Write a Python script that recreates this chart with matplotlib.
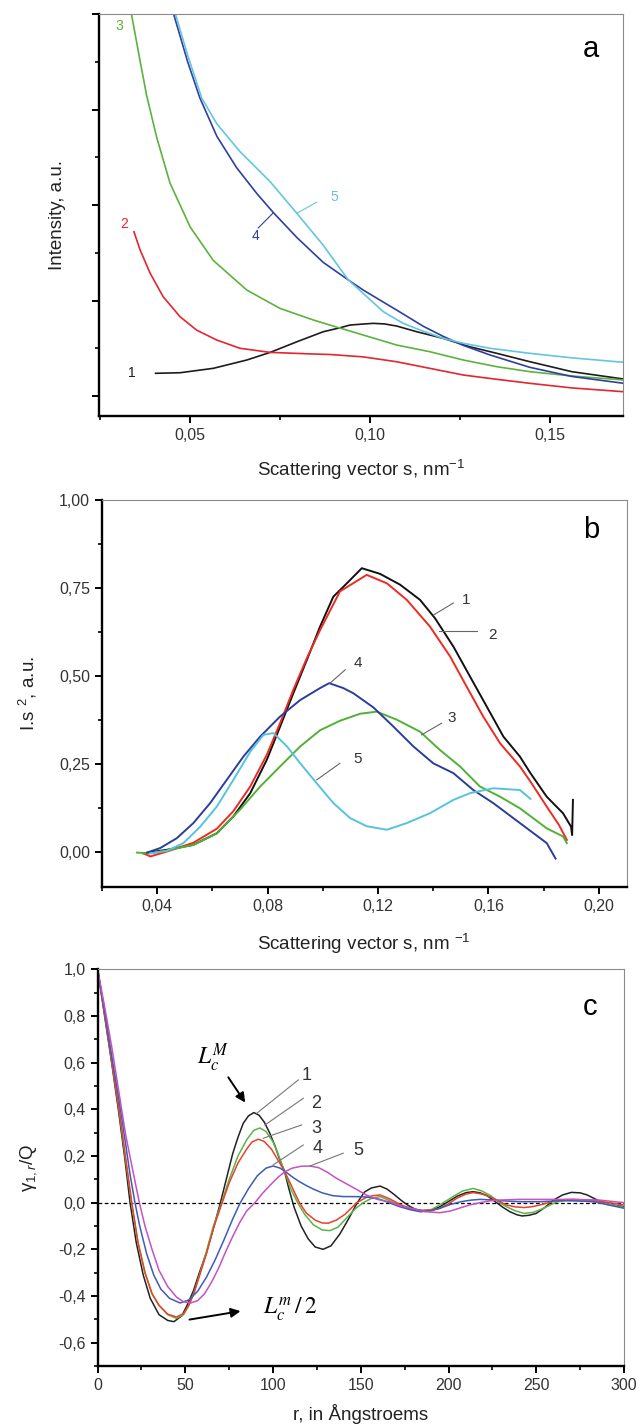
import numpy as np
import matplotlib
matplotlib.use("Agg")
from matplotlib import pyplot as plt
from matplotlib.ticker import FuncFormatter, MultipleLocator

plt.rcParams['font.family'] = ['Liberation Sans', 'DejaVu Sans']
plt.rcParams['mathtext.fontset'] = 'custom'
plt.rcParams['mathtext.rm'] = 'Liberation Sans'
plt.rcParams['mathtext.it'] = 'Liberation Sans:italic'

# ---- panel a: scattering curves ----
a_s1 = [0.0405, 0.0473, 0.0565, 0.0658, 0.0723, 0.0797, 0.0870, 0.0917, 0.0944, 0.0981, 0.1009, 0.1040, 0.1074, 0.1130, 0.1203, 0.1277, 0.1352, 0.1444, 0.1560, 0.1704]
a_i1 = [0.238, 0.244, 0.290, 0.377, 0.457, 0.568, 0.673, 0.715, 0.743, 0.754, 0.761, 0.755, 0.733, 0.673, 0.604, 0.516, 0.447, 0.359, 0.255, 0.178]
a_s2 = [0.0345, 0.0362, 0.0390, 0.0426, 0.0473, 0.0519, 0.0575, 0.0639, 0.0723, 0.0843, 0.0889, 0.0981, 0.1074, 0.1166, 0.1259, 0.1352, 0.1444, 0.1560, 0.1704]
a_i2 = [1.72, 1.53, 1.285, 1.04, 0.83, 0.69, 0.586, 0.50, 0.457, 0.44, 0.435, 0.41, 0.359, 0.29, 0.22, 0.175, 0.133, 0.085, 0.045]
a_s3 = [0.0338, 0.0358, 0.0380, 0.0408, 0.0445, 0.0501, 0.0565, 0.0658, 0.0750, 0.0843, 0.0889, 0.0981, 0.1074, 0.1166, 0.1259, 0.1352, 0.1444, 0.1560, 0.1704]
a_i3 = [4.0, 3.59, 3.15, 2.71, 2.23, 1.77, 1.42, 1.11, 0.918, 0.796, 0.743, 0.639, 0.534, 0.464, 0.377, 0.307, 0.255, 0.21, 0.168]
a_s4 = [0.0455, 0.0494, 0.0528, 0.0575, 0.0630, 0.0686, 0.0732, 0.0797, 0.0870, 0.0940, 0.0981, 0.1074, 0.1148, 0.1203, 0.1259, 0.1333, 0.1444, 0.1560, 0.1704]
a_i4 = [4.0, 3.50, 3.12, 2.72, 2.39, 2.12, 1.92, 1.66, 1.40, 1.215, 1.11, 0.90, 0.73, 0.625, 0.53, 0.43, 0.30, 0.205, 0.133]
a_s5 = [0.0460, 0.0494, 0.0533, 0.0575, 0.0639, 0.0723, 0.0797, 0.0870, 0.0889, 0.0940, 0.0981, 0.1037, 0.1092, 0.1139, 0.1203, 0.1259, 0.1333, 0.1444, 0.1560, 0.1704]
a_i5 = [4.0, 3.57, 3.12, 2.85, 2.56, 2.244, 1.913, 1.58, 1.48, 1.215, 1.075, 0.883, 0.761, 0.691, 0.604, 0.552, 0.50, 0.447, 0.40, 0.353]

# ---- panel b: Kratky plots ----
b_s1 = [0.0350, 0.0435, 0.0531, 0.0616, 0.0676, 0.0737, 0.0797, 0.0845, 0.0893, 0.0942, 0.0990, 0.1038, 0.1087, 0.1141, 0.1207, 0.1280, 0.1352, 0.1406, 0.1473, 0.1533, 0.1594, 0.1654, 0.1714, 0.1752, 0.1811, 0.1870, 0.1899, 0.1903, 0.1906]
b_i1 = [-0.005, 0.005, 0.019, 0.052, 0.100, 0.166, 0.261, 0.355, 0.450, 0.545, 0.640, 0.725, 0.763, 0.806, 0.790, 0.759, 0.716, 0.664, 0.583, 0.498, 0.412, 0.327, 0.270, 0.223, 0.156, 0.109, 0.071, 0.047, 0.147]
b_s2 = [0.0350, 0.0375, 0.0435, 0.0531, 0.0616, 0.0676, 0.0737, 0.0797, 0.0845, 0.0893, 0.0942, 0.0990, 0.1062, 0.1159, 0.1232, 0.1304, 0.1388, 0.1461, 0.1521, 0.1581, 0.1642, 0.1714, 0.1752, 0.1811, 0.1855, 0.1884]
b_i2 = [-0.005, -0.014, 0.0, 0.025, 0.065, 0.115, 0.185, 0.275, 0.365, 0.46, 0.55, 0.63, 0.74, 0.787, 0.763, 0.716, 0.64, 0.555, 0.469, 0.384, 0.308, 0.242, 0.199, 0.128, 0.076, 0.033]
b_s3 = [0.0327, 0.0375, 0.0435, 0.0531, 0.0616, 0.0700, 0.0773, 0.0845, 0.0918, 0.0990, 0.1062, 0.1135, 0.1195, 0.1268, 0.1352, 0.1424, 0.1497, 0.1569, 0.1642, 0.1714, 0.1811, 0.1870, 0.1884]
b_i3 = [-0.003, -0.005, 0.003, 0.019, 0.052, 0.119, 0.185, 0.242, 0.299, 0.345, 0.372, 0.392, 0.398, 0.375, 0.341, 0.289, 0.242, 0.185, 0.156, 0.123, 0.066, 0.043, 0.024]
b_s4 = [0.0363, 0.0411, 0.0471, 0.0531, 0.0592, 0.0652, 0.0712, 0.0773, 0.0845, 0.0918, 0.0990, 0.1023, 0.1074, 0.1111, 0.1183, 0.1255, 0.1328, 0.1400, 0.1473, 0.1545, 0.1617, 0.1714, 0.1811, 0.1843]
b_i4 = [-0.003, 0.010, 0.038, 0.081, 0.138, 0.204, 0.270, 0.327, 0.384, 0.431, 0.465, 0.479, 0.465, 0.45, 0.41, 0.356, 0.299, 0.251, 0.223, 0.175, 0.138, 0.081, 0.024, -0.02]
b_s5 = [0.0375, 0.0435, 0.0495, 0.0556, 0.0616, 0.0676, 0.0737, 0.0785, 0.0821, 0.0870, 0.0918, 0.0978, 0.1038, 0.1099, 0.1159, 0.1232, 0.1304, 0.1388, 0.1473, 0.1533, 0.1617, 0.1714, 0.1752]
b_i5 = [-0.005, 0.002, 0.024, 0.071, 0.128, 0.204, 0.284, 0.332, 0.337, 0.299, 0.251, 0.194, 0.138, 0.095, 0.072, 0.062, 0.081, 0.109, 0.147, 0.166, 0.18, 0.175, 0.15]

# ---- panel c: correlation functions ----
c_r1 = [0, 4, 8, 12, 15.5, 18.5, 22, 26, 30, 35, 40, 43.5, 48, 51, 54.5, 58, 62, 66, 70, 74, 77, 80, 83, 86, 89, 92, 95, 98, 101, 104, 106.5, 109, 112, 116, 120, 124, 128.5, 133, 138, 143, 148, 152, 156, 161, 165, 169, 173, 177, 181, 186, 191, 195, 200, 205, 210, 214, 218, 222, 227, 231, 235, 239, 242, 246, 250, 255, 260, 265, 270, 275, 279, 283, 287, 292, 300]
c_g1 = [1.0, 0.80, 0.60, 0.39, 0.19, 0.0, -0.17, -0.31, -0.41, -0.48, -0.505, -0.51, -0.485, -0.44, -0.38, -0.30, -0.215, -0.11, 0.0, 0.12, 0.21, 0.28, 0.34, 0.372, 0.386, 0.375, 0.345, 0.30, 0.245, 0.18, 0.135, 0.06, -0.02, -0.10, -0.155, -0.19, -0.20, -0.185, -0.135, -0.07, 0.0, 0.045, 0.063, 0.071, 0.058, 0.035, 0.01, -0.012, -0.028, -0.035, -0.03, -0.018, 0.005, 0.028, 0.043, 0.047, 0.042, 0.03, 0.002, -0.02, -0.039, -0.052, -0.057, -0.054, -0.046, -0.02, 0.012, 0.033, 0.044, 0.042, 0.033, 0.018, 0.003, -0.008, -0.017]
c_r2 = [0, 4, 8, 12, 16, 19.3, 23, 27, 31, 35, 40, 45, 49, 52, 55, 58, 62, 66, 70.7, 75, 80, 85, 89, 92.6, 96, 100, 103, 106.5, 110, 114, 118, 123, 128, 132.4, 137, 142, 147, 151.4, 156, 161, 166, 172, 178, 184, 190, 196, 203, 208, 214, 219, 224, 229, 233, 238, 243, 248, 253, 258, 262, 266, 271, 277, 283, 290, 300]
c_g2 = [1.0, 0.81, 0.61, 0.41, 0.18, 0.0, -0.17, -0.30, -0.39, -0.44, -0.48, -0.496, -0.48, -0.44, -0.385, -0.31, -0.21, -0.10, 0.0, 0.10, 0.20, 0.27, 0.31, 0.32, 0.305, 0.26, 0.205, 0.135, 0.06, 0.0, -0.05, -0.095, -0.117, -0.12, -0.105, -0.065, -0.025, 0.0, 0.018, 0.026, 0.01, -0.01, -0.026, -0.034, -0.03, -0.005, 0.028, 0.05, 0.061, 0.05, 0.03, 0.0, -0.017, -0.035, -0.046, -0.042, -0.028, -0.01, 0.004, 0.008, 0.009, 0.007, 0.004, -0.005, -0.02]
c_r3 = [0, 4, 8, 12, 16, 19.5, 23, 27, 31, 35, 40, 45, 49, 52, 55, 58, 62, 66, 71, 75, 80, 85, 88, 91.6, 95, 99, 103, 106.5, 110, 115, 119, 124, 128, 131.5, 136, 141, 147.7, 153, 157, 161, 166, 172, 178, 184, 190, 195, 200, 205, 210, 214, 219, 224, 229, 233, 238, 243, 248, 252, 257, 262, 267, 271, 277, 283, 290, 300]
c_g3 = [1.0, 0.81, 0.61, 0.41, 0.19, 0.0, -0.17, -0.30, -0.39, -0.44, -0.478, -0.49, -0.475, -0.44, -0.385, -0.315, -0.22, -0.11, 0.0, 0.085, 0.17, 0.23, 0.26, 0.272, 0.262, 0.23, 0.18, 0.135, 0.08, 0.0, -0.045, -0.075, -0.087, -0.088, -0.075, -0.05, 0.0, 0.022, 0.03, 0.033, 0.018, -0.006, -0.025, -0.034, -0.032, -0.025, -0.005, 0.02, 0.037, 0.043, 0.037, 0.024, 0.006, -0.01, -0.018, -0.021, -0.017, -0.01, 0.0, 0.009, 0.013, 0.014, 0.012, 0.009, 0.002, -0.01]
c_r4 = [0, 4, 8, 12, 16, 18.5, 21.3, 24, 28, 32, 36, 41, 47, 52, 57, 62, 67, 72, 77, 81, 86, 91, 96, 100, 104, 107, 111, 115, 119, 123, 128, 134, 140, 146, 152, 157, 161, 166, 172, 178, 184, 190, 195, 201, 207, 213, 218, 224, 229, 235, 241, 252, 260, 267, 275, 283, 290, 300]
c_g4 = [1.0, 0.82, 0.63, 0.45, 0.25, 0.12, 0.0, -0.10, -0.22, -0.31, -0.37, -0.41, -0.43, -0.417, -0.38, -0.32, -0.245, -0.16, -0.07, -0.005, 0.06, 0.115, 0.148, 0.157, 0.148, 0.133, 0.11, 0.09, 0.073, 0.058, 0.042, 0.03, 0.026, 0.026, 0.025, 0.02, 0.014, 0.0, -0.017, -0.03, -0.039, -0.035, -0.024, -0.008, 0.004, 0.011, 0.014, 0.012, 0.009, 0.006, 0.004, 0.004, 0.007, 0.009, 0.007, 0.004, -0.008, -0.024]
c_r5 = [0, 4, 8, 12, 16, 20, 23.8, 27, 31, 35, 40, 45, 49, 53, 57, 61, 65, 69, 73, 77, 81, 85, 89.7, 94, 99, 103, 106.8, 111, 116, 121, 126, 131, 136, 142, 148, 153, 160, 166, 172, 180, 187, 195, 201, 206, 212, 218, 224, 229, 240, 255, 271, 286, 300]
c_g5 = [1.0, 0.84, 0.67, 0.48, 0.29, 0.14, 0.0, -0.10, -0.20, -0.29, -0.36, -0.405, -0.425, -0.43, -0.42, -0.39, -0.34, -0.28, -0.21, -0.145, -0.085, -0.035, 0.0, 0.04, 0.08, 0.11, 0.133, 0.148, 0.156, 0.157, 0.15, 0.13, 0.105, 0.08, 0.055, 0.033, 0.013, 0.004, -0.012, -0.026, -0.039, -0.043, -0.036, -0.024, -0.01, 0.0, 0.008, 0.011, 0.014, 0.014, 0.014, 0.011, 0.0]

labels = ['1', '2', '3', '4', '5']
col_a = ['#1c1c1c', '#e3262f', '#5bb33d', '#303f9f', '#62c6e0']
col_b = ['#111111', '#ee2a24', '#52b036', '#2b3d9b', '#56c3dc']
col_c = ['#222222', '#5db446', '#e8412c', '#3d5bb8', '#c651c0']

W, H = 637, 1424
fig = plt.figure(figsize=(W / 100, H / 100), dpi=100)


def rect(l, r, t, b):
    return [l / W, 1 - b / H, (r - l) / W, (b - t) / H]


def style(ax):
    for s in ['left', 'bottom']:
        ax.spines[s].set_linewidth(1.7)
        ax.spines[s].set_color('black')
    for s in ['top', 'right']:
        ax.spines[s].set_linewidth(0.8)
        ax.spines[s].set_color('#8a8a8a')
    ax.tick_params(which='major', direction='out', length=5, width=1.4,
                   labelsize=11.5, labelcolor='#333333', top=False, right=False)
    ax.tick_params(which='minor', direction='out', length=3, width=1.2,
                   top=False, right=False)


def comma(fmt):
    def f(v, pos):
        if abs(v) < 1e-9:
            v = 0.0
        return (fmt % v).replace('.', ',')
    return FuncFormatter(f)


lab_kw = dict(fontsize=13.5, color='#222222')

# panel a
ax = fig.add_axes(rect(99, 623, 14, 416))
style(ax)
for s, i, c in zip([a_s1, a_s2, a_s3, a_s4, a_s5], [a_i1, a_i2, a_i3, a_i4, a_i5], col_a):
    ax.plot(s, i, color=c, lw=1.2)
ax.set_xlim(0.0248, 0.1702)
ax.set_ylim(-0.209, 4.0)
ax.xaxis.set_major_locator(MultipleLocator(0.05))
ax.xaxis.set_minor_locator(MultipleLocator(0.025))
ax.xaxis.set_major_formatter(comma('%.2f'))
ax.yaxis.set_major_locator(MultipleLocator(1.0))
ax.yaxis.set_minor_locator(MultipleLocator(0.5))
ax.set_yticklabels([])
ax.set_xlabel('Scattering vector s, nm$^{-1}$', **lab_kw)
ax.set_ylabel('Intensity, a.u.', **lab_kw)
ax.xaxis.set_label_coords(0.5, -0.105)
ax.yaxis.set_label_coords(-0.063, 0.5)
ax.text(0.0304, 3.87, '3', color=col_a[2], fontsize=10, ha='center', va='center')
ax.text(0.0318, 1.80, '2', color=col_a[1], fontsize=10, ha='center', va='center')
ax.text(0.0340, 0.245, '1', color=col_a[0], fontsize=10, ha='center', va='center')
ax.text(0.0682, 1.68, '4', color=col_a[3], fontsize=10, ha='center', va='center')
ax.text(0.0901, 2.08, '5', color=col_a[4], fontsize=10, ha='center', va='center')
ax.plot([0.0797, 0.0852], [1.913, 2.03], color=col_a[4], lw=0.8)
ax.plot([0.0732, 0.0690], [1.92, 1.76], color=col_a[3], lw=0.8)
ax.text(0.939, 0.913, 'a', transform=ax.transAxes, fontsize=21, ha='center', va='center')

# panel b
ax = fig.add_axes(rect(102, 626.5, 500, 886.7))
style(ax)
for s, i, c in zip([b_s1, b_s2, b_s3, b_s4, b_s5], [b_i1, b_i2, b_i3, b_i4, b_i5], col_b):
    ax.plot(s, i, color=c, lw=1.4)
ax.set_xlim(0.020, 0.210)
ax.set_ylim(-0.10, 1.0)
ax.xaxis.set_major_locator(MultipleLocator(0.04))
ax.xaxis.set_minor_locator(MultipleLocator(0.02))
ax.xaxis.set_major_formatter(comma('%.2f'))
ax.yaxis.set_major_locator(MultipleLocator(0.25))
ax.yaxis.set_minor_locator(MultipleLocator(0.125))
ax.yaxis.set_major_formatter(comma('%.2f'))
ax.set_xlabel('Scattering vector s, nm $^{-1}$', **lab_kw)
ax.set_ylabel('I.s $^{2}$, a.u.', **lab_kw)
ax.xaxis.set_label_coords(0.5, -0.118)
ax.yaxis.set_label_coords(-0.12, 0.5)
b_lines = [((0.1401, 0.673), (0.1473, 0.707), (0.1503, 0.716)),
           ((0.1419, 0.626), (0.1557, 0.626), (0.1600, 0.616)),
           ((0.1358, 0.332), (0.1430, 0.365), (0.1452, 0.379)),
           ((0.1026, 0.479), (0.1081, 0.517), (0.1111, 0.536)),
           ((0.0978, 0.204), (0.1062, 0.251), (0.1111, 0.263))]
for lab, (p0, p1, pt) in zip(labels, b_lines):
    ax.plot([p0[0], p1[0]], [p0[1], p1[1]], color='#666666', lw=0.8)
    ax.text(pt[0], pt[1], lab, fontsize=11, color='#333333', ha='left', va='center')
ax.text(0.932, 0.922, 'b', transform=ax.transAxes, fontsize=21, ha='center', va='center')

# panel c
ax = fig.add_axes(rect(97.6, 624, 969.3, 1366))
style(ax)
ax.axhline(0, color='black', lw=0.9, ls=(0, (3, 2)))
for r, g, c in zip([c_r1, c_r2, c_r3, c_r4, c_r5], [c_g1, c_g2, c_g3, c_g4, c_g5], col_c):
    ax.plot(r, g, color=c, lw=1.1)
ax.set_xlim(0, 300)
ax.set_ylim(-0.7, 1.0)
ax.xaxis.set_major_locator(MultipleLocator(50))
ax.xaxis.set_minor_locator(MultipleLocator(25))
ax.yaxis.set_major_locator(MultipleLocator(0.2))
ax.yaxis.set_minor_locator(MultipleLocator(0.1))
ax.yaxis.set_major_formatter(comma('%.1f'))
ax.set_xlabel('r, in Ångstroems', **lab_kw)
ax.set_ylabel('γ$_{1,r}$/Q', **lab_kw)
ax.xaxis.set_label_coords(0.5, -0.095)
ax.yaxis.set_label_coords(-0.111, 0.5)
c_lines = [((90.7, 0.383), (114.4, 0.526), (119.2, 0.547)),
           ((95.4, 0.333), (117.2, 0.447), (124.5, 0.426)),
           ((94.4, 0.276), (116.3, 0.333), (124.5, 0.319)),
           ((100.1, 0.162), (117.2, 0.247), (125.2, 0.233)),
           ((121.0, 0.157), (140.0, 0.212), (148.6, 0.223))]
for lab, (p0, p1, pt) in zip(labels, c_lines):
    ax.plot([p0[0], p1[0]], [p0[1], p1[1]], color='#777777', lw=0.8)
    ax.text(pt[0], pt[1], lab, fontsize=13, color='#333333', ha='center', va='center')
ax.annotate('', xy=(85, 0.419), xytext=(73.6, 0.547),
            arrowprops=dict(arrowstyle='-|>', color='black', lw=1.4, mutation_scale=14))
ax.text(66, 0.619, '$L_c^M$', fontsize=17, math_fontfamily='stix', ha='center', va='center')
ax.annotate('', xy=(83, -0.463), xytext=(50.8, -0.503),
            arrowprops=dict(arrowstyle='-|>', color='black', lw=1.4, mutation_scale=14))
ax.text(94, -0.455, '$L_c^m\\,/\\,2$', fontsize=17, math_fontfamily='stix', ha='left', va='center')
ax.text(0.935, 0.906, 'c', transform=ax.transAxes, fontsize=21, ha='center', va='center')

fig.savefig('out.png', dpi=100)
